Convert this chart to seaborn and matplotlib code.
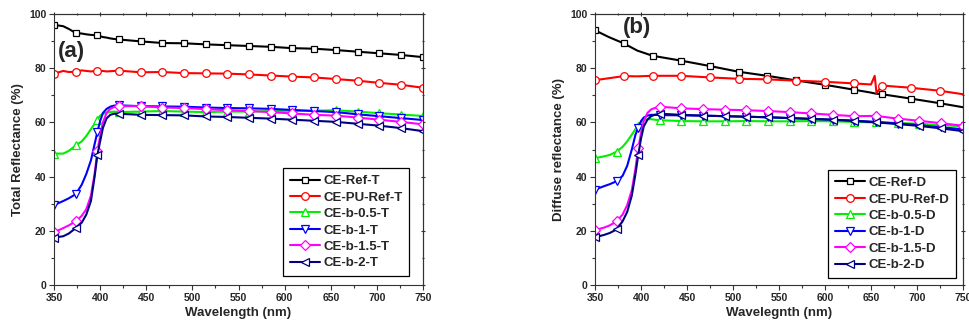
import matplotlib
matplotlib.use("Agg")
from matplotlib import pyplot as plt
from matplotlib.ticker import MultipleLocator
import seaborn as sns

# Wavelength grid (nm): marker positions every 23.5 nm plus extra points in the absorption edge
wl = [350, 360, 366, 373.5, 380, 385, 390, 394, 397, 400, 403, 407, 411, 415, 420.5,
      444, 467.5, 491, 514.5, 538, 561.5, 585, 608.5, 632, 655.5, 679, 702.5, 726, 749.5]
wl_extra = [360, 366, 380, 385, 390, 394, 400, 403, 407, 411, 415]

# (a) total reflectance
ref_t = [96, 95.5, 94.5, 93, 92.8, 92.5, 92.3, 92.2, 92.1, 91.8, 91.5, 91.3, 91.0, 90.8, 90.6,
         89.9, 89.3, 89.2, 88.8, 88.5, 88.2, 87.9, 87.4, 87.2, 86.7, 86.1, 85.5, 84.9, 84.1]
pu_ref_t = [78.0, 79.0, 78.6, 78.7, 79.2, 79.0, 78.8, 79.0, 78.8, 78.9, 79.0, 78.8, 78.9, 79.0, 79.1,
            78.5, 78.6, 78.2, 78.1, 78.0, 77.7, 77.3, 76.9, 76.6, 76.0, 75.4, 74.6, 73.9, 72.8]
b05_t = [48.5, 48.5, 49.5, 51.5, 53, 55, 57.5, 59.5, 61, 62.5, 63.2, 63.6, 63.8, 64.0, 63.8,
         64.0, 64.2, 64.0, 63.8, 64.0, 64.0, 64.2, 64.3, 64.3, 64.5, 64.0, 63.4, 62.9, 62.4]
b1_t = [29.5, 31, 32, 33.5, 37, 41, 46, 52, 56.5, 60.5, 63.5, 65, 65.8, 66.2, 66.3,
        66.0, 65.9, 65.8, 65.5, 65.3, 65.2, 65.0, 64.6, 64.2, 63.8, 63.0, 62.3, 61.6, 60.9]
b15_t = [19.5, 21, 22, 23.5, 25.5, 28, 33, 41, 49.5, 55, 60, 63.5, 65, 65.7, 66.0,
         66.0, 65.5, 65.3, 64.9, 64.5, 64.2, 63.8, 63.3, 62.8, 62.5, 61.8, 61.0, 60.2, 59.3]
b2_t = [17.5, 18, 19, 21, 23, 26, 31, 40, 48, 53, 58, 61.5, 62.8, 63.2, 63.2,
        62.8, 62.7, 62.6, 62.2, 62.0, 61.7, 61.4, 61.0, 60.6, 60.2, 59.5, 58.8, 57.9, 56.8]

# (b) diffuse reflectance, references measured on their own grid
wl_ref = [350, 365, 381, 396, 412.5, 443.5, 475, 506, 537, 568.5, 599.5, 631,
          650, 654, 656, 662, 693, 724.5, 750]
wl_ref_extra = [365, 396, 650, 654, 656, 750]
ref_d = [94, 91.5, 89.2, 86.5, 84.6, 82.8, 80.8, 78.7, 77.2, 75.5, 73.9, 72.1,
         71.0, 70.7, 70.6, 70.4, 68.8, 67.1, 65.6]
pu_ref_d = [75.6, 76.3, 77.1, 77.0, 77.2, 77.2, 76.6, 76.1, 75.9, 75.4, 75.0, 74.4,
            74.0, 77.2, 70.8, 73.6, 72.8, 71.7, 70.4]
b05_d = [46.8, 47.5, 48, 49.2, 51, 53, 55.5, 57.5, 58.7, 60, 60.8, 61.2, 61.2, 61.0, 60.8,
         60.5, 60.4, 60.4, 60.5, 60.4, 60.4, 60.5, 60.4, 60.2, 60.0, 59.8, 59.5, 59.0, 58.6]
b1_d = [35.2, 36.5, 37.2, 38.3, 40.3, 44, 50, 55.5, 58, 60.5, 61.8, 62.5, 62.8, 62.8, 62.7,
        62.6, 62.5, 62.3, 62.1, 61.9, 61.6, 61.3, 61.0, 60.6, 60.2, 59.6, 59.0, 58.2, 57.5]
b15_d = [20.3, 21.2, 22, 23.5, 26, 29.5, 35, 43, 50.5, 56, 60.5, 63.5, 64.8, 65.3, 65.8,
         65.2, 64.9, 64.7, 64.5, 64.2, 63.8, 63.3, 62.8, 62.3, 62.4, 61.4, 60.6, 59.7, 58.8]
b2_d = [17.6, 18.5, 19.2, 20.5, 23.5, 27, 33, 41, 48, 54, 58.5, 61, 62.3, 62.8, 63.2,
        62.8, 62.5, 62.3, 62.1, 61.9, 61.6, 61.3, 61.0, 60.6, 60.0, 59.4, 58.7, 57.8, 56.8]

labels_t = ["CE-Ref-T", "CE-PU-Ref-T", "CE-b-0.5-T", "CE-b-1-T", "CE-b-1.5-T", "CE-b-2-T"]
labels_d = ["CE-Ref-D", "CE-PU-Ref-D", "CE-b-0.5-D", "CE-b-1-D", "CE-b-1.5-D", "CE-b-2-D"]
colors = ["black", "#ff0000", "#00ee00", "#0000ff", "#ff00ff", "#000080"]
markers = ["s", "o", "^", "v", "D", "<"]
msizes = [5, 5.5, 5.5, 5.5, 5, 5.5]

sns.set_style("ticks")
plt.rcParams["font.family"] = ["Liberation Sans", "DejaVu Sans"]
plt.rcParams["font.weight"] = "bold"
plt.rcParams["axes.labelweight"] = "bold"

fig = plt.figure(figsize=(9.7, 3.33), dpi=100)
ax_a = fig.add_axes([0.0557, 0.1441, 0.3804, 0.8138])
ax_b = fig.add_axes([0.6134, 0.1441, 0.3794, 0.8138])


def marks(x, extra):
    return [i for i, w in enumerate(x) if w not in extra]


def draw(ax, series, labels):
    for (x, y, extra), lab, c, m, ms in zip(series, labels, colors, markers, msizes):
        sns.lineplot(x=x, y=y, ax=ax, color=c, lw=1.5, marker=m, markersize=ms,
                     markerfacecolor="white", markeredgecolor=c, markeredgewidth=0.9,
                     markevery=marks(x, extra), label=lab, errorbar=None)


draw(ax_a, [(wl, ref_t, wl_extra), (wl, pu_ref_t, wl_extra), (wl, b05_t, wl_extra),
            (wl, b1_t, wl_extra), (wl, b15_t, wl_extra), (wl, b2_t, wl_extra)], labels_t)
draw(ax_b, [(wl_ref, ref_d, wl_ref_extra), (wl_ref, pu_ref_d, wl_ref_extra), (wl, b05_d, wl_extra),
            (wl, b1_d, wl_extra), (wl, b15_d, wl_extra), (wl, b2_d, wl_extra)], labels_d)

legend_pos = [(0.962, 0.033), (0.981, 0.026)]
for ax, ylab, xlab, tag, tpos, lpos in zip(
        [ax_a, ax_b],
        ["Total Reflectance (%)", "Diffuse reflectance (%)"],
        ["Wavelength (nm)", "Wavelegnth (nm)"],
        ["(a)", "(b)"], [(0.011, 0.86), (0.076, 0.952)], legend_pos):
    ax.set_xlim(350, 750)
    ax.set_ylim(0, 100)
    ax.xaxis.set_major_locator(MultipleLocator(50))
    ax.xaxis.set_minor_locator(MultipleLocator(25))
    ax.yaxis.set_major_locator(MultipleLocator(20))
    ax.yaxis.set_minor_locator(MultipleLocator(10))
    ax.tick_params(which="both", direction="out", labelsize=7.5, width=0.8, color="#333333", pad=2)
    ax.tick_params(which="major", length=3.5)
    ax.tick_params(which="minor", length=2)
    for lbl in ax.get_xticklabels() + ax.get_yticklabels():
        lbl.set_fontweight("bold")
    for sp in ax.spines.values():
        sp.set_visible(True)
        sp.set_color("#333333")
        sp.set_linewidth(0.8)
    # mirrored ticks on top and right
    top = ax.secondary_xaxis("top")
    right = ax.secondary_yaxis("right")
    top.xaxis.set_major_locator(MultipleLocator(50))
    top.xaxis.set_minor_locator(MultipleLocator(25))
    right.yaxis.set_major_locator(MultipleLocator(20))
    right.yaxis.set_minor_locator(MultipleLocator(10))
    for sec in (top, right):
        sec.tick_params(which="both", direction="inout", labeltop=False, labelright=False,
                        width=0.8, color="#333333")
        sec.tick_params(which="major", length=3)
        sec.tick_params(which="minor", length=2)
        for sp in sec.spines.values():
            sp.set_color("#333333")
            sp.set_linewidth(0.8)
    ax.set_xlabel(xlab, fontsize=9.5, fontweight="bold", labelpad=3)
    ax.set_ylabel(ylab, fontsize=9.5, fontweight="bold", labelpad=4)
    ax.text(tpos[0], tpos[1], tag, transform=ax.transAxes, fontsize=16, fontweight="bold",
            va="center", ha="left")
    handles, labs = ax.get_legend_handles_labels()
    leg = ax.legend(handles, labs, loc="lower right", bbox_to_anchor=lpos, borderaxespad=0,
                    fancybox=False, framealpha=1, edgecolor="black", handlelength=2.3,
                    handletextpad=0.25, labelspacing=0.32, borderpad=0.5,
                    prop={"size": 9.5, "weight": "bold"})
    leg.get_frame().set_linewidth(0.9)

fig.savefig("out.png", dpi=100)
